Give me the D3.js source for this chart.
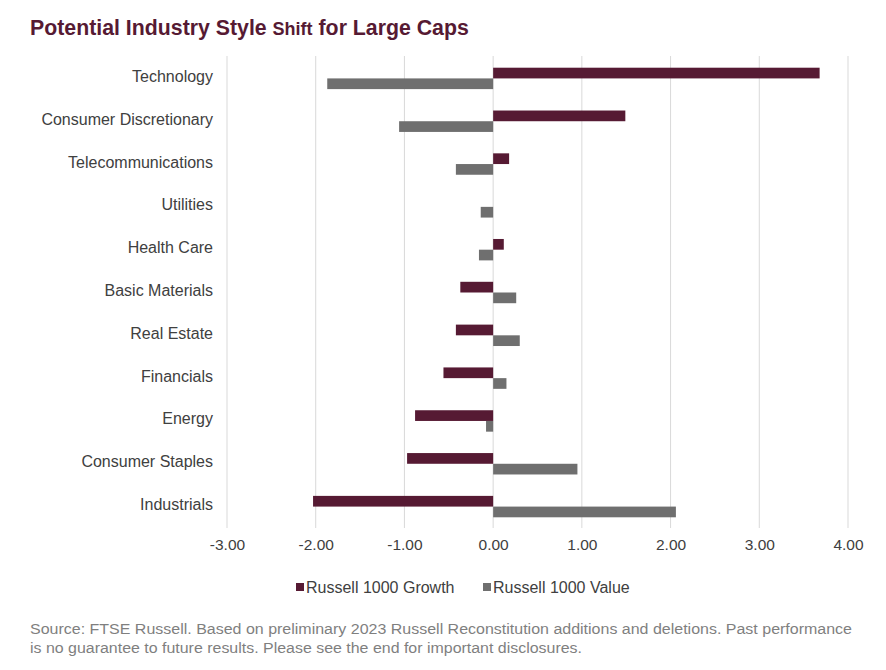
<!DOCTYPE html>
<html><head><meta charset="utf-8">
<script src="https://cdn.jsdelivr.net/npm/d3@7"></script>
<style>body{margin:0;background:#fff;} svg{display:block;font-family:"Liberation Sans",Arial,sans-serif;}</style>
</head><body><svg id="c" width="886" height="670"></svg>
<script>
const categories = ["Technology","Consumer Discretionary","Telecommunications","Utilities","Health Care","Basic Materials","Real Estate","Financials","Energy","Consumer Staples","Industrials"];
const growthValues = [3.68, 1.49, 0.18, 0, 0.12, -0.37, -0.42, -0.56, -0.88, -0.97, -2.03];
const valueValues = [-1.87, -1.06, -0.42, -0.14, -0.16, 0.26, 0.30, 0.15, -0.08, 0.95, 2.06];
const seriesNames = ["Russell 1000 Growth","Russell 1000 Value"];
const tickValues = [-3,-2,-1,0,1,2,3,4];
const colors = ["#561a33","#6f6f6f"];

const svg = d3.select("#c");
const x = d3.scaleLinear().domain([-3,4]).range([227,848]);
const y = d3.scaleBand().domain(categories).range([57,528]);
const sub = d3.scaleBand().domain(seriesNames).range([0,y.bandwidth()]).paddingInner(0).paddingOuter(1);

// title
const t = svg.append("text").attr("x",30).attr("y",35).attr("fill","#561a33").attr("font-weight","bold").attr("font-size",21.3);
t.append("tspan").text("Potential Industry Style ");
t.append("tspan").attr("font-size",18).text("Shift");
t.append("tspan").text(" for Large Caps");

// gridlines
svg.append("g").selectAll("line").data(tickValues).join("line")
  .attr("x1",d=>x(d)).attr("x2",d=>x(d)).attr("y1",56).attr("y2",528)
  .attr("stroke","#d9d9d9").attr("stroke-width",1);

// bars
const data = categories.map((c,i)=>({c, vals:[growthValues[i], valueValues[i]]}));
const g = svg.append("g");
data.forEach(d=>{
  d.vals.forEach((v,j)=>{
    g.append("rect")
      .attr("x", x(Math.min(0,v)))
      .attr("width", Math.abs(x(v)-x(0)))
      .attr("y", y(d.c)+sub(seriesNames[j]))
      .attr("height", sub.bandwidth())
      .attr("fill", colors[j]);
  });
});

// category labels
svg.append("g").selectAll("text").data(categories).join("text")
  .attr("x",213).attr("y",d=>y(d)+y.bandwidth()/2-2.5+6).attr("text-anchor","end")
  .attr("font-size",16).attr("fill","#404040").text(d=>d);

// x axis tick labels
const fmt = d3.format(".2f");
const ax = svg.append("g").attr("transform","translate(0,539)")
  .call(d3.axisBottom(x).tickValues(tickValues).tickFormat(d=>fmt(d).replace("\u2212","-")).tickSize(0).tickPadding(0));
ax.select(".domain").remove();
ax.selectAll("text").attr("font-size",15.5).attr("fill","#404040").attr("font-family","Liberation Sans, Arial, sans-serif");

// legend
const leg = svg.append("g");
const lx = [296, 483];
seriesNames.forEach((n,i)=>{
  leg.append("rect").attr("x",lx[i]).attr("y",583).attr("width",8).attr("height",8).attr("fill",colors[i]);
  leg.append("text").attr("x",lx[i]+10).attr("y",593).attr("font-size",16).attr("fill","#404040").text(n);
});

// source
svg.append("text").attr("x",30).attr("y",634).attr("font-size",15.5).attr("fill","#7f7f7f")
  .attr("textLength",822).attr("lengthAdjust","spacingAndGlyphs")
  .text("Source: FTSE Russell. Based on preliminary 2023 Russell Reconstitution additions and deletions. Past performance");
svg.append("text").attr("x",30).attr("y",653).attr("font-size",15.5).attr("fill","#7f7f7f")
  .attr("textLength",552).attr("lengthAdjust","spacingAndGlyphs")
  .text("is no guarantee to future results. Please see the end for important disclosures.");
</script></body></html>
